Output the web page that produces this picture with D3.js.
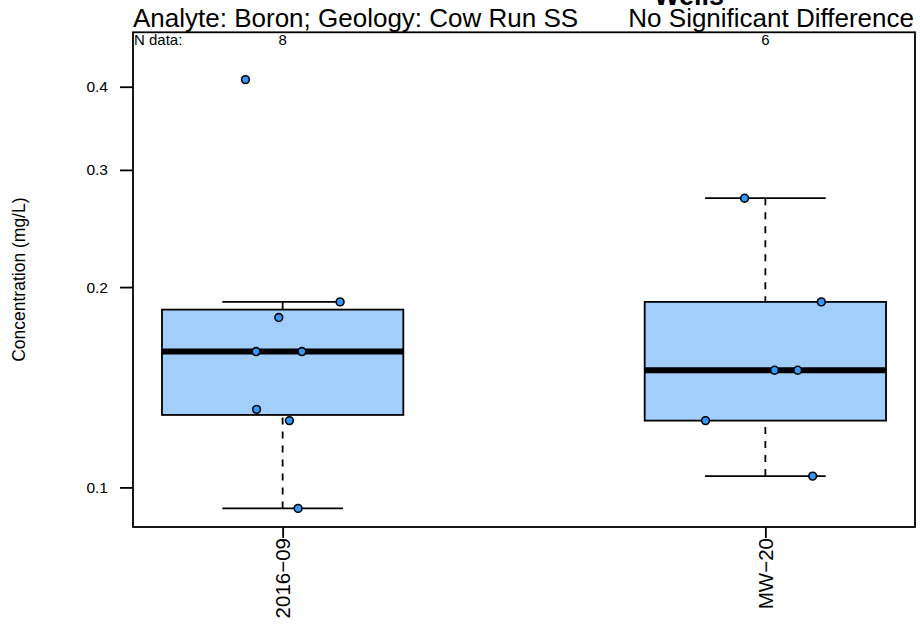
<!DOCTYPE html>
<html>
<head>
<meta charset="utf-8">
<script src="https://cdn.jsdelivr.net/npm/d3@7"></script>
<style>
  html, body { margin: 0; padding: 0; background: #fff; }
  svg { display: block; font-family: "Liberation Sans", Arial, Helvetica, sans-serif; }
</style>
</head>
<body>
<svg id="chart" width="920" height="626"></svg>
<script>
// Boron concentrations per well (mg/L)
const categories = ["2016\u221209", "MW\u221220"];
const nData = [8, 6];
const wellValues = [
  [0.41, 0.19, 0.18, 0.16, 0.16, 0.131, 0.126, 0.093],
  [0.272, 0.19, 0.15, 0.15, 0.126, 0.104]
];
// horizontal jitter of each point, in category units
const wellJitter = [
  [-0.077, 0.119, -0.008, -0.055, 0.040, -0.054, 0.014, 0.032],
  [-0.043, 0.116, 0.019, 0.067, -0.124, 0.098]
];
const yTicks = [0.1, 0.2, 0.3, 0.4];
const yDomain = [0.0872, 0.4829];
const titleLeft = "Analyte: Boron; Geology: Cow Run SS";
const titleRight = "No Significant Difference";
const titleTop = "Wells";
const yLabel = "Concentration (mg/L)";

const svg = d3.select("#chart");
const plot = { left: 133, right: 915, top: 32.3, bottom: 527 };

const x = d3.scaleLinear().domain([0.69, 2.31]).range([plot.left, plot.right]);
const y = d3.scaleLog().domain(yDomain).range([plot.bottom, plot.top]);

// Tukey five-number summary, as used by R's boxplot
function fivenum(vals) {
  const s = vals.slice().sort((a, b) => a - b);
  const n = s.length;
  const n4 = Math.floor((n + 3) / 2) / 2;
  const d = [1, n4, (n + 1) / 2, n + 1 - n4, n];
  return d.map(p => 0.5 * (s[Math.floor(p) - 1] + s[Math.ceil(p) - 1]));
}
function boxStats(vals) {
  const f = fivenum(vals);
  const iqr = f[3] - f[1];
  const lo = f[1] - 1.5 * iqr, hi = f[3] + 1.5 * iqr;
  const inside = vals.filter(v => v >= lo && v <= hi);
  return { lower: d3.min(inside), q1: f[1], med: f[2], q3: f[3], upper: d3.max(inside) };
}

const boxHalf = 0.25, capHalf = 0.125;
const g = svg.append("g");

categories.forEach((cat, i) => {
  const c = i + 1;
  const st = boxStats(wellValues[i]);
  // whiskers (dashed), drawn from whisker end to hinge
  g.append("line").attr("x1", x(c)).attr("x2", x(c))
    .attr("y1", y(st.lower)).attr("y2", y(st.q1))
    .attr("stroke", "#000").attr("stroke-width", 1.8).attr("stroke-dasharray", "7,7");
  g.append("line").attr("x1", x(c)).attr("x2", x(c))
    .attr("y1", y(st.upper)).attr("y2", y(st.q3))
    .attr("stroke", "#000").attr("stroke-width", 1.8).attr("stroke-dasharray", "7,7");
  // caps
  [st.lower, st.upper].forEach(v => {
    g.append("line").attr("x1", x(c - capHalf)).attr("x2", x(c + capHalf))
      .attr("y1", y(v)).attr("y2", y(v))
      .attr("stroke", "#000").attr("stroke-width", 1.8);
  });
  // box
  g.append("rect")
    .attr("x", x(c - boxHalf)).attr("width", x(c + boxHalf) - x(c - boxHalf))
    .attr("y", y(st.q3)).attr("height", y(st.q1) - y(st.q3))
    .attr("fill", "#a2cefc").attr("stroke", "#000").attr("stroke-width", 1.8);
  // median
  g.append("line").attr("x1", x(c - boxHalf)).attr("x2", x(c + boxHalf))
    .attr("y1", y(st.med)).attr("y2", y(st.med))
    .attr("stroke", "#000").attr("stroke-width", 6);
});

// data points
categories.forEach((cat, i) => {
  const c = i + 1;
  g.selectAll(null).data(wellValues[i].map((v, j) => ({ v, j: wellJitter[i][j] })))
    .enter().append("circle")
    .attr("cx", d => x(c + d.j)).attr("cy", d => y(d.v)).attr("r", 3.9)
    .attr("fill", "#3399ff").attr("stroke", "#000").attr("stroke-width", 1.6);
});

// frame
svg.append("rect")
  .attr("x", plot.left).attr("y", plot.top)
  .attr("width", plot.right - plot.left).attr("height", plot.bottom - plot.top)
  .attr("fill", "none").attr("stroke", "#000").attr("stroke-width", 1.8);

// y axis
const yAxis = svg.append("g").attr("transform", `translate(${plot.left},0)`)
  .call(d3.axisLeft(y).tickValues(yTicks).tickFormat(d3.format(".1f")).tickSizeOuter(0).tickSize(13).tickPadding(12));
yAxis.select(".domain").remove();
yAxis.selectAll(".tick line").attr("stroke-width", 1.8);
yAxis.selectAll(".tick text").attr("font-size", 15.5).attr("font-family", "Liberation Sans, Arial, sans-serif").attr("fill", "#000");

// x axis
const xAxis = svg.append("g").attr("transform", `translate(0,${plot.bottom})`)
  .call(d3.axisBottom(x).tickValues([1, 2]).tickFormat((d) => categories[d - 1]).tickSizeOuter(0).tickSize(11));
xAxis.select(".domain").remove();
xAxis.selectAll(".tick line").attr("stroke-width", 1.8);
xAxis.selectAll(".tick text")
  .attr("font-size", 20.5).attr("font-family", "Liberation Sans, Arial, sans-serif").attr("fill", "#000")
  .attr("text-anchor", "end")
  .attr("transform", "rotate(-90)")
  .attr("x", -11).attr("y", 0).attr("dy", "0.35em");

// N data annotations
svg.append("text").attr("x", plot.left + 1).attr("y", 45).attr("font-size", 15).text("N data:");
categories.forEach((cat, i) => {
  svg.append("text").attr("x", x(i + 1)).attr("y", 44.5).attr("font-size", 15)
    .attr("text-anchor", "middle").text(nData[i]);
});

// titles
svg.append("text").attr("x", plot.left).attr("y", 27).attr("font-size", 26).text(titleLeft);
svg.append("text").attr("x", plot.right - 1).attr("y", 27).attr("font-size", 26)
  .attr("text-anchor", "end").text(titleRight);
svg.append("text").attr("x", 689).attr("y", 4.5).attr("font-size", 27).attr("font-weight", "bold")
  .attr("text-anchor", "middle").text(titleTop);

// y label
svg.append("text").attr("transform", `translate(25,${(plot.top + plot.bottom) / 2}) rotate(-90)`)
  .attr("text-anchor", "middle").attr("font-size", 17.5).text(yLabel);
</script>
</body>
</html>
